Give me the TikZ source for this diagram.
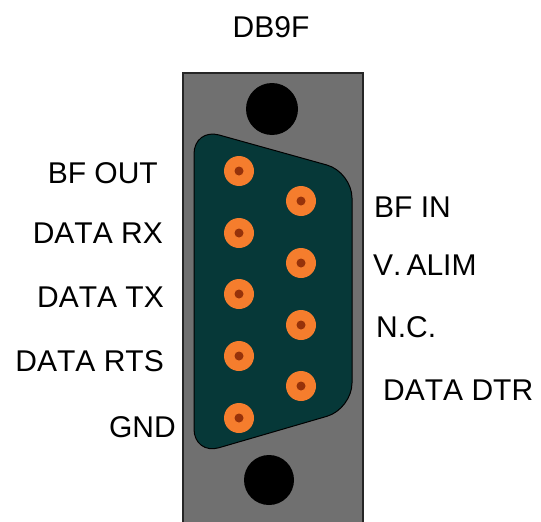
\documentclass[tikz,border=0pt]{standalone}
\usepackage{fontspec}
\setmainfont[Kerning=Off]{Liberation Sans}
\definecolor{plate}{RGB}{112,112,112}
\definecolor{shell}{RGB}{6,56,56}
\definecolor{pinor}{RGB}{245,125,45}
\definecolor{pindot}{RGB}{150,50,10}
\begin{document}
\begin{tikzpicture}[x=1pt,y=-1pt,
  lbl/.style={inner sep=0pt,font=\fontsize{30}{36}\selectfont,text=black},
  lblL/.style={lbl,anchor=base east},
  lblR/.style={lbl,anchor=base west},
  pin/.style={circle,fill=pinor,minimum size=30pt,inner sep=0pt,
    path picture={\fill[pindot] (path picture bounding box.center) circle[radius=4.5pt];}},
  hole/.style={circle,fill=black,inner sep=0pt}]
\useasboundingbox (0,0) rectangle (541,522);
% plate
\fill[plate,draw=black!85,line width=2pt] (183,73) rectangle (363,540);
% mounting holes
\node[hole,minimum size=52pt] (holeT) at (272,109) {};
\node[hole,minimum size=50pt] (holeB) at (269,480) {};
% shell
\draw[fill=shell,draw=black,line width=1pt,rounded corners=26pt]
  (194,128) -- (352,172) -- (352,409) -- (194,455) -- cycle;
% pins
\node[pin] (p1) at (239,171) {};
\node[pin] (p2) at (239,233) {};
\node[pin] (p3) at (239,294) {};
\node[pin] (p4) at (239,356) {};
\node[pin] (p5) at (239,418) {};
\node[pin] (p6) at (301,201) {};
\node[pin] (p7) at (301,263) {};
\node[pin] (p8) at (301,325) {};
\node[pin] (p9) at (301,386) {};
% labels
\node[lbl,anchor=base] (title) at (271,37) {DB9F};
\node[lblL] (l1) at (158,183) {BF OUT};
\node[lblL] (l2) at (163,243) {DATA RX};
\node[lblL] (l3) at (164,307) {DATA TX};
\node[lblL] (l4) at (164,371) {DATA RTS};
\node[lblL] (l5) at (176,437) {GND};
\node[lblR] (r1) at (374,217) {BF IN};
\node[lblR] (r2) at (373,275) {V.\,ALIM};
\node[lblR] (r3) at (376,337) {N.C.};
\node[lblR] (r4) at (383,400) {DATA DTR};
\end{tikzpicture}
\end{document}
